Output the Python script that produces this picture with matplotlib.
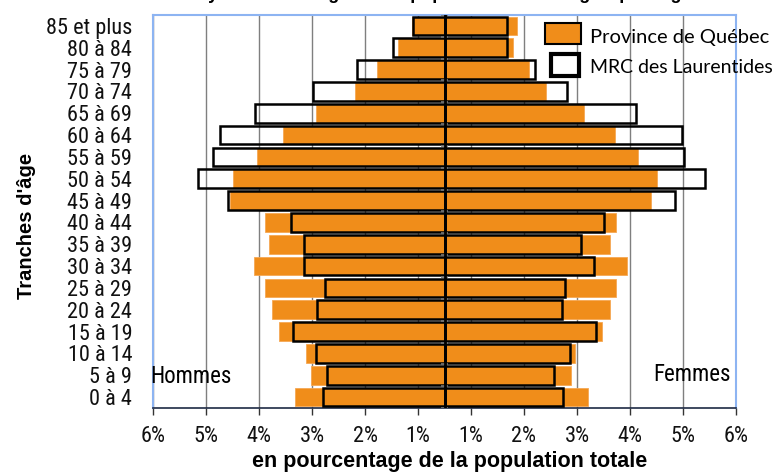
# Pyramide des âges : Province de Québec vs MRC des Laurentides

import numpy as np
import matplotlib
matplotlib.use('Agg')
import matplotlib.pyplot as plt
from matplotlib.patches import Rectangle

# data (en % de la population totale), du plus jeune au plus vieux
age_labels = ['0 à 4', '5 à 9', '10 à 14', '15 à 19', '20 à 24', '25 à 29',
              '30 à 34', '35 à 39', '40 à 44', '45 à 49', '50 à 54', '55 à 59',
              '60 à 64', '65 à 69', '70 à 74', '75 à 79', '80 à 84', '85 et plus']

quebec_hommes = [2.83, 2.51, 2.62, 3.12, 3.25, 3.39, 3.59, 3.32, 3.39,
                 4.04, 3.99, 3.54, 3.05, 2.43, 1.69, 1.27, 0.88, 0.61]
mrc_hommes = [2.30, 2.22, 2.42, 2.85, 2.40, 2.25, 2.66, 2.65, 2.90,
              4.08, 4.65, 4.37, 4.24, 3.58, 2.49, 1.66, 0.98, 0.59]
quebec_femmes = [2.70, 2.39, 2.47, 2.98, 3.12, 3.24, 3.45, 3.13, 3.23,
                 3.89, 4.01, 3.65, 3.21, 2.63, 1.91, 1.59, 1.30, 1.37]
mrc_femmes = [2.24, 2.06, 2.36, 2.85, 2.22, 2.27, 2.82, 2.57, 3.00,
              4.34, 4.91, 4.52, 4.48, 3.62, 2.32, 1.70, 1.18, 1.18]

x_ticks = [-5.5, -4.5, -3.5, -2.5, -1.5, -0.5, 0.5, 1.5, 2.5, 3.5, 4.5, 5.5]
x_tick_labels = ['6%', '5%', '4%', '3%', '2%', '1%', '1%', '2%', '3%', '4%', '5%', '6%']

ORANGE = '#F08D1A'
BORDER = '#8DB4F2'
NARROW = ['Roboto Condensed', 'Liberation Sans', 'DejaVu Sans']

fig = plt.figure(figsize=(7.74, 4.73), dpi=100)
ax = fig.add_axes([153/774, 1 - 408/473, (736 - 153)/774, (408 - 15)/473])

y = np.arange(len(age_labels))
h = 0.85

# province (orange) bars
ax.barh(y, -np.array(quebec_hommes), height=h, color=ORANGE, edgecolor='#F5A855', linewidth=0.6, zorder=2)
ax.barh(y, quebec_femmes, height=h, color=ORANGE, edgecolor='#F5A855', linewidth=0.6, zorder=2)

# MRC outline bars on top
ax.barh(y, -np.array(mrc_hommes), height=h, facecolor='none', edgecolor='black', linewidth=1.8, zorder=3)
ax.barh(y, mrc_femmes, height=h, facecolor='none', edgecolor='black', linewidth=1.8, zorder=3)

# central axis
ax.axvline(0, color='black', linewidth=2, zorder=4)
ax.hlines(np.arange(-0.5, len(age_labels), 1), -0.07, 0.07, color='#777777', linewidth=1.2, zorder=3)

ax.set_xlim(-5.5, 5.5)
ax.set_ylim(-0.5, len(age_labels) - 0.5)

ax.set_xticks(x_ticks)
ax.set_xticklabels(x_tick_labels, family=NARROW, fontsize=16, color='#111111')
ax.tick_params(axis='x', length=5, width=1, color='#333333', pad=8)
ax.xaxis.grid(True, color='#7F7F7F', linewidth=1)
ax.set_axisbelow(True)

ax.set_yticks(y)
ax.set_yticklabels(age_labels, family=NARROW, fontsize=16, color='#111111')
ax.tick_params(axis='y', length=0, pad=15)

for side in ['left', 'top', 'right']:
    ax.spines[side].set_color(BORDER)
    ax.spines[side].set_linewidth(1.5)
ax.spines['bottom'].set_color('#1E2A44')
ax.spines['bottom'].set_linewidth(1.2)

ax.text(-5.56, 0.95, 'Hommes', family=NARROW, fontsize=16.5, ha='left', va='center', zorder=5)
ax.text(5.40, 1.05, 'Femmes', family=NARROW, fontsize=16.5, ha='right', va='center', zorder=5)

# axis titles
fig.text(27/774, 1 - 226/473, "Tranches d'âge", rotation=90, ha='center', va='center',
         fontsize=14.5, fontweight='bold', family='Liberation Sans')
fig.text(450/774, 1 - 461/473, 'en pourcentage de la population totale', ha='center', va='center',
         fontsize=15.5, fontweight='bold', family='Liberation Sans')

# title (cut by the top of the picture, as in the source)
fig.text(444/774, 1 + 1.5/473, "Pyramide des âges de la population selon le groupe d'âge",
         ha='center', va='baseline', fontsize=13, fontweight='bold', family='Liberation Sans')

# legend
fig.add_artist(Rectangle((545/774, 1 - 44/473), 36/774, 21/473, transform=fig.transFigure,
                         facecolor=ORANGE, edgecolor='black', linewidth=1.5, zorder=6))
fig.add_artist(Rectangle((551/774, 1 - 76/473), 28/774, 22/473, transform=fig.transFigure,
                         facecolor='white', edgecolor='black', linewidth=3, zorder=6))
fig.text(590/774, 1 - 37/473, 'Province de Québec', ha='left', va='center', fontsize=14.5, family='Lato')
fig.text(590/774, 1 - 67/473, 'MRC des Laurentides', ha='left', va='center', fontsize=14, family='Lato')

fig.savefig('out.png', dpi=100)
